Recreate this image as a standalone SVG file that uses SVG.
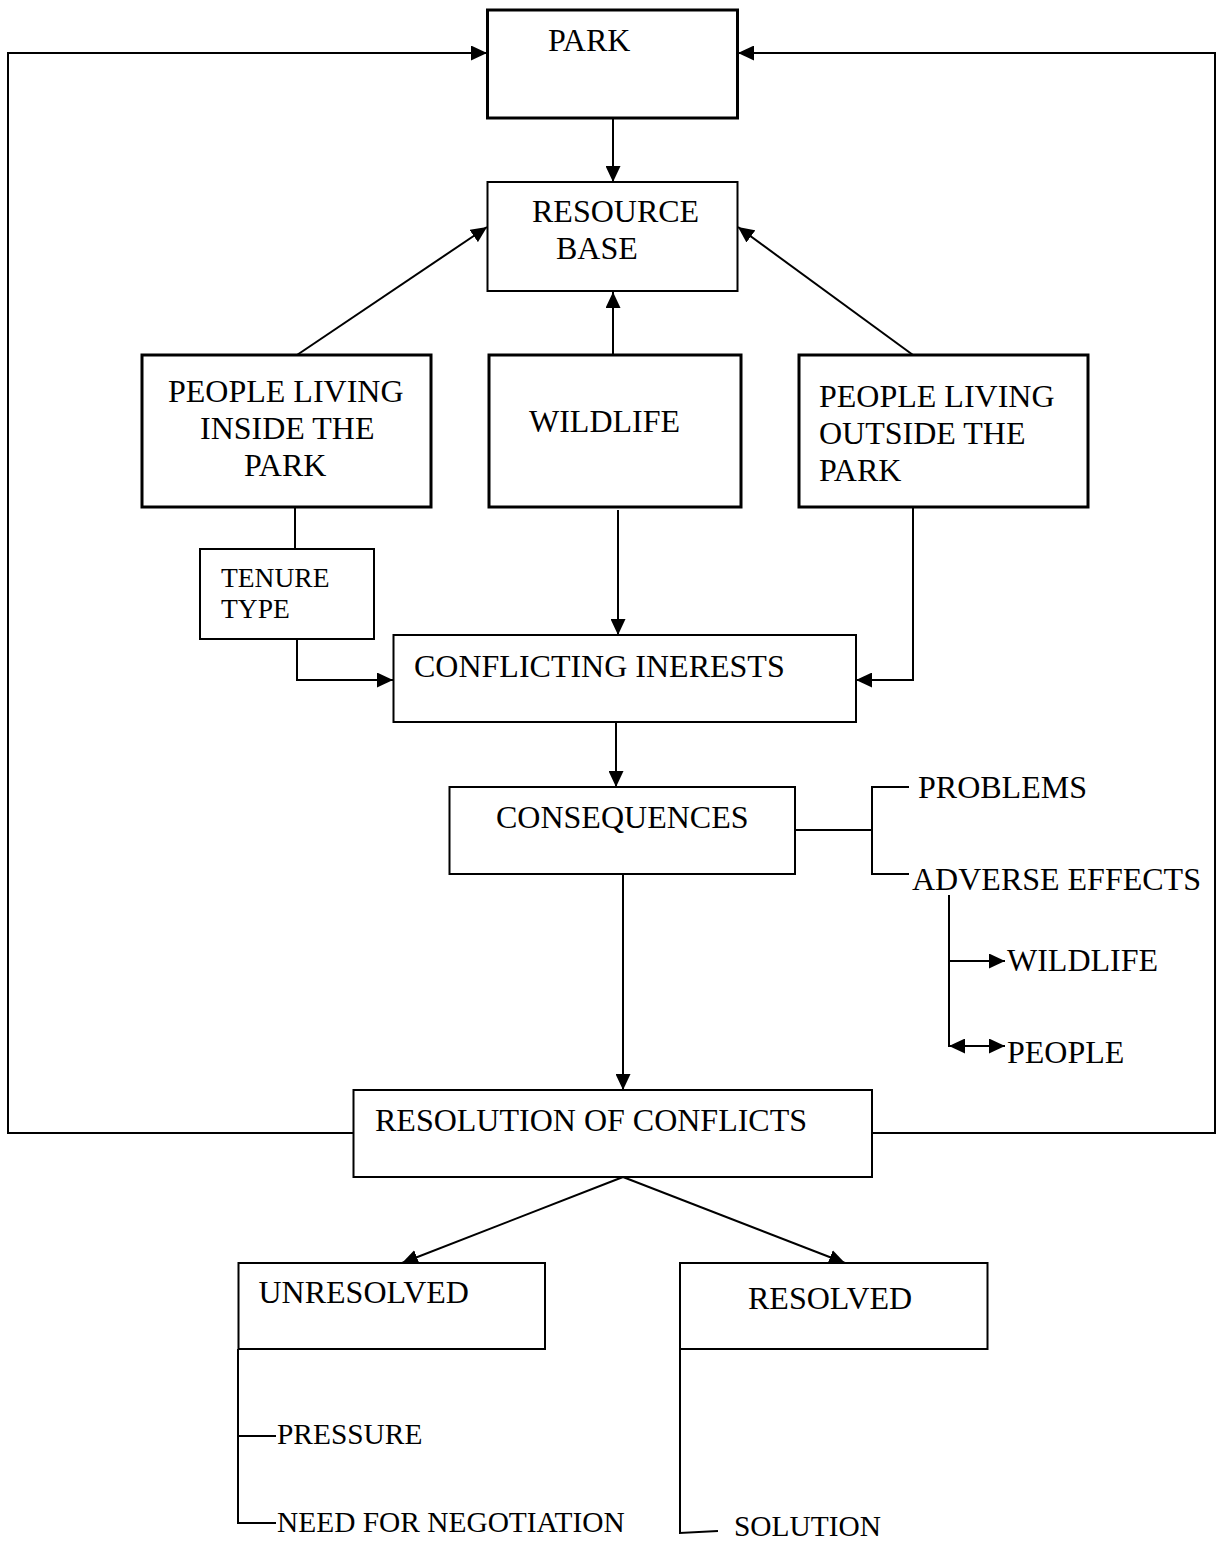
<svg xmlns="http://www.w3.org/2000/svg" width="1217" height="1541" viewBox="0 0 1217 1541">
<style>
  text { font-family: "Liberation Serif", "Times New Roman", serif; font-size: 32px; fill: #000; }
  .sm { font-size: 27.5px; }
  .bt { font-size: 29.4px; }
  .box { fill: #fff; stroke: #000; stroke-width: 2; }
  .bold { stroke-width: 3; }
  .ln { fill: none; stroke: #000; stroke-width: 2; }
  .arr { marker-end: url(#ah); }
</style>
<defs>
  <marker id="ah" markerUnits="userSpaceOnUse" markerWidth="16" markerHeight="15" refX="16" refY="7.5" orient="auto">
    <path d="M0,0 L16,7.5 L0,15 z" fill="#000"/>
  </marker>
  <marker id="ahs" markerUnits="userSpaceOnUse" markerWidth="16" markerHeight="15" refX="0" refY="7.5" orient="auto">
    <path d="M16,0 L0,7.5 L16,15 z" fill="#000"/>
  </marker>
</defs>
<rect width="1217" height="1541" fill="#fff"/>

<g id="connectors">
  <polyline class="ln arr" points="353,1133 8,1133 8,53 487,53"/>
  <polyline class="ln arr" points="872,1133 1215,1133 1215,53 738,53"/>
  <line class="ln arr" x1="613" y1="118" x2="613" y2="182"/>
  <line class="ln arr" x1="297" y1="355" x2="487" y2="227"/>
  <line class="ln arr" x1="913" y1="355" x2="738" y2="227"/>
  <line class="ln arr" x1="613" y1="355" x2="613" y2="292"/>
  <line class="ln" x1="295" y1="507" x2="295" y2="549"/>
  <polyline class="ln arr" points="297,639 297,680 393,680"/>
  <line class="ln arr" x1="618" y1="510" x2="618" y2="635"/>
  <polyline class="ln arr" points="913,507 913,680 856,680"/>
  <line class="ln arr" x1="616" y1="722" x2="616" y2="787"/>
  <polyline class="ln" points="795,830 872,830"/>
  <polyline class="ln" points="909,787 872,787 872,874 909,874"/>
  <line class="ln" x1="949" y1="895" x2="949" y2="1047"/>
  <line class="ln arr" x1="949" y1="961" x2="1005" y2="961"/>
  <line class="ln arr" x1="949" y1="1046" x2="1005" y2="1046" marker-start="url(#ahs)"/>
  <line class="ln arr" x1="623" y1="874" x2="623" y2="1090"/>
  <line class="ln arr" x1="623" y1="1177" x2="402" y2="1263"/>
  <line class="ln arr" x1="623" y1="1177" x2="845" y2="1263"/>
  <polyline class="ln" points="238,1349 238,1523 276,1523"/>
  <line class="ln" x1="238" y1="1436" x2="276" y2="1436"/>
  <polyline class="ln" points="680,1349 680,1533 718,1531"/>
</g>

<g id="park">
  <rect class="box bold" x="487.5" y="10" width="250" height="108"/>
  <text x="548" y="51">PARK</text>
</g>
<g id="resource-base">
  <rect class="box" x="487.5" y="182" width="250" height="109"/>
  <text x="532" y="222">RESOURCE</text>
  <text x="556" y="259">BASE</text>
</g>
<g id="people-inside">
  <rect class="box bold" x="142" y="355" width="289" height="152"/>
  <text x="168" y="402">PEOPLE LIVING</text>
  <text x="200" y="439">INSIDE THE</text>
  <text x="244" y="476">PARK</text>
</g>
<g id="wildlife">
  <rect class="box bold" x="489" y="355" width="252" height="152"/>
  <text x="529" y="432">WILDLIFE</text>
</g>
<g id="people-outside">
  <rect class="box bold" x="799" y="355" width="289" height="152"/>
  <text x="819" y="407">PEOPLE LIVING</text>
  <text x="819" y="444">OUTSIDE THE</text>
  <text x="819" y="481">PARK</text>
</g>
<g id="tenure-type">
  <rect class="box" x="200" y="549" width="174" height="90"/>
  <text class="sm" x="221" y="587">TENURE</text>
  <text class="sm" x="221" y="618">TYPE</text>
</g>
<g id="conflicting-interests">
  <rect class="box" x="393.5" y="635" width="462.5" height="87"/>
  <text x="414" y="677">CONFLICTING INERESTS</text>
</g>
<g id="consequences">
  <rect class="box" x="449.5" y="787" width="345.5" height="87"/>
  <text x="496" y="828">CONSEQUENCES</text>
</g>
<g id="problems">
  <text x="918" y="798">PROBLEMS</text>
</g>
<g id="adverse-effects">
  <text x="912" y="890">ADVERSE EFFECTS</text>
</g>
<g id="effects-wildlife">
  <text x="1007" y="971">WILDLIFE</text>
</g>
<g id="effects-people">
  <text x="1007" y="1063">PEOPLE</text>
</g>
<g id="resolution">
  <rect class="box" x="353.5" y="1090" width="518.5" height="87"/>
  <text x="375" y="1131">RESOLUTION OF CONFLICTS</text>
</g>
<g id="unresolved">
  <rect class="box" x="238.5" y="1263" width="306.5" height="86"/>
  <text x="258.5" y="1303">UNRESOLVED</text>
</g>
<g id="resolved">
  <rect class="box" x="680" y="1263" width="307.5" height="86"/>
  <text x="748" y="1309">RESOLVED</text>
</g>
<g id="pressure">
  <text class="bt" x="277" y="1444">PRESSURE</text>
</g>
<g id="need-for-negotiation">
  <text class="bt" x="277" y="1532">NEED FOR NEGOTIATION</text>
</g>
<g id="solution">
  <text class="bt" x="734" y="1536">SOLUTION</text>
</g>
</svg>
